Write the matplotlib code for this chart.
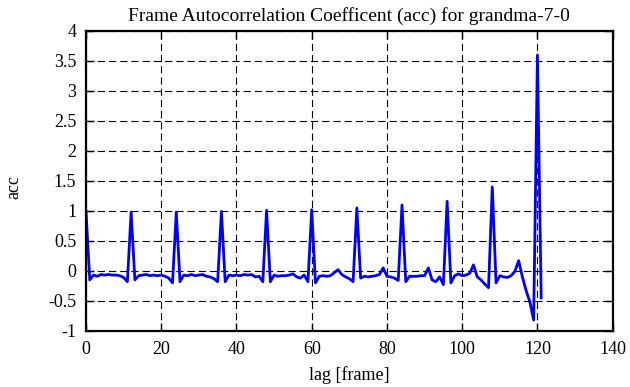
import numpy as np
import matplotlib
matplotlib.use('Agg')
import matplotlib.pyplot as plt

# autocorrelation values, one per lag (frames 0..121)
acc = [
    1.00, -0.15, -0.07, -0.09, -0.06, -0.07, -0.06, -0.07, -0.07, -0.08,
    -0.11, -0.18, 0.98, -0.15, -0.08, -0.07, -0.06, -0.08, -0.07, -0.08,
    -0.07, -0.09, -0.12, -0.20, 0.98, -0.18, -0.07, -0.08, -0.06, -0.08,
    -0.07, -0.06, -0.09, -0.10, -0.13, -0.18, 0.99, -0.18, -0.07, -0.08,
    -0.07, -0.08, -0.06, -0.07, -0.06, -0.10, -0.09, -0.18, 1.01, -0.18,
    -0.07, -0.09, -0.08, -0.08, -0.07, -0.05, -0.10, -0.12, -0.07, -0.18,
    1.02, -0.20, -0.09, -0.08, -0.09, -0.08, -0.03, 0.02, -0.06, -0.10,
    -0.13, -0.18, 1.05, -0.12, -0.09, -0.10, -0.09, -0.08, -0.06, 0.05,
    -0.09, -0.10, -0.12, -0.16, 1.10, -0.18, -0.09, -0.09, -0.09, -0.08,
    -0.08, 0.05, -0.15, -0.18, -0.10, -0.23, 1.16, -0.20, -0.08, -0.05,
    -0.08, -0.07, -0.04, 0.10, -0.10, -0.15, -0.22, -0.28, 1.40, -0.20,
    -0.08, -0.10, -0.11, -0.08, -0.01, 0.17, -0.10, -0.33, -0.52, -0.82,
    3.60, -0.45,
]
lags = np.arange(len(acc))

xticks = [0, 20, 40, 60, 80, 100, 120, 140]
yticks = [-1, -0.5, 0, 0.5, 1, 1.5, 2, 2.5, 3, 3.5, 4]
ytick_labels = ['-1', '-0.5', '0', '0.5', '1', '1.5', '2', '2.5', '3', '3.5', '4']

plt.rcParams['font.family'] = ['Liberation Serif', 'DejaVu Serif']
plt.rcParams['font.size'] = 13

fig = plt.figure(figsize=(6.3, 3.87), dpi=100)
ax = fig.add_axes([0.1365, 0.145, 0.836, 0.775])

ax.plot(lags, acc, color='#0000ff', linewidth=2.0)

ax.set_xlim(0, 140)
ax.set_ylim(-1, 4)
ax.set_xticks(xticks)
ax.set_yticks(yticks)
ax.set_yticklabels(ytick_labels)
ax.tick_params(direction='in', length=6, width=1, top=True, right=True,
               colors='black', pad=7)
ax.grid(True, color='black', linewidth=0.8, linestyle=(0, (6.5, 3.6)))

for s in ax.spines.values():
    s.set_linewidth(1.6)

ax.set_title('Frame Autocorrelation Coefficent (acc) for grandma-7-0',
             fontsize=14, pad=7)
ax.set_xlabel('lag [frame]', fontsize=13, labelpad=6)
ax.set_ylabel('acc', fontsize=13)
ax.yaxis.set_label_coords(-0.12, 0.48)

plt.savefig('out.png', dpi=100)
